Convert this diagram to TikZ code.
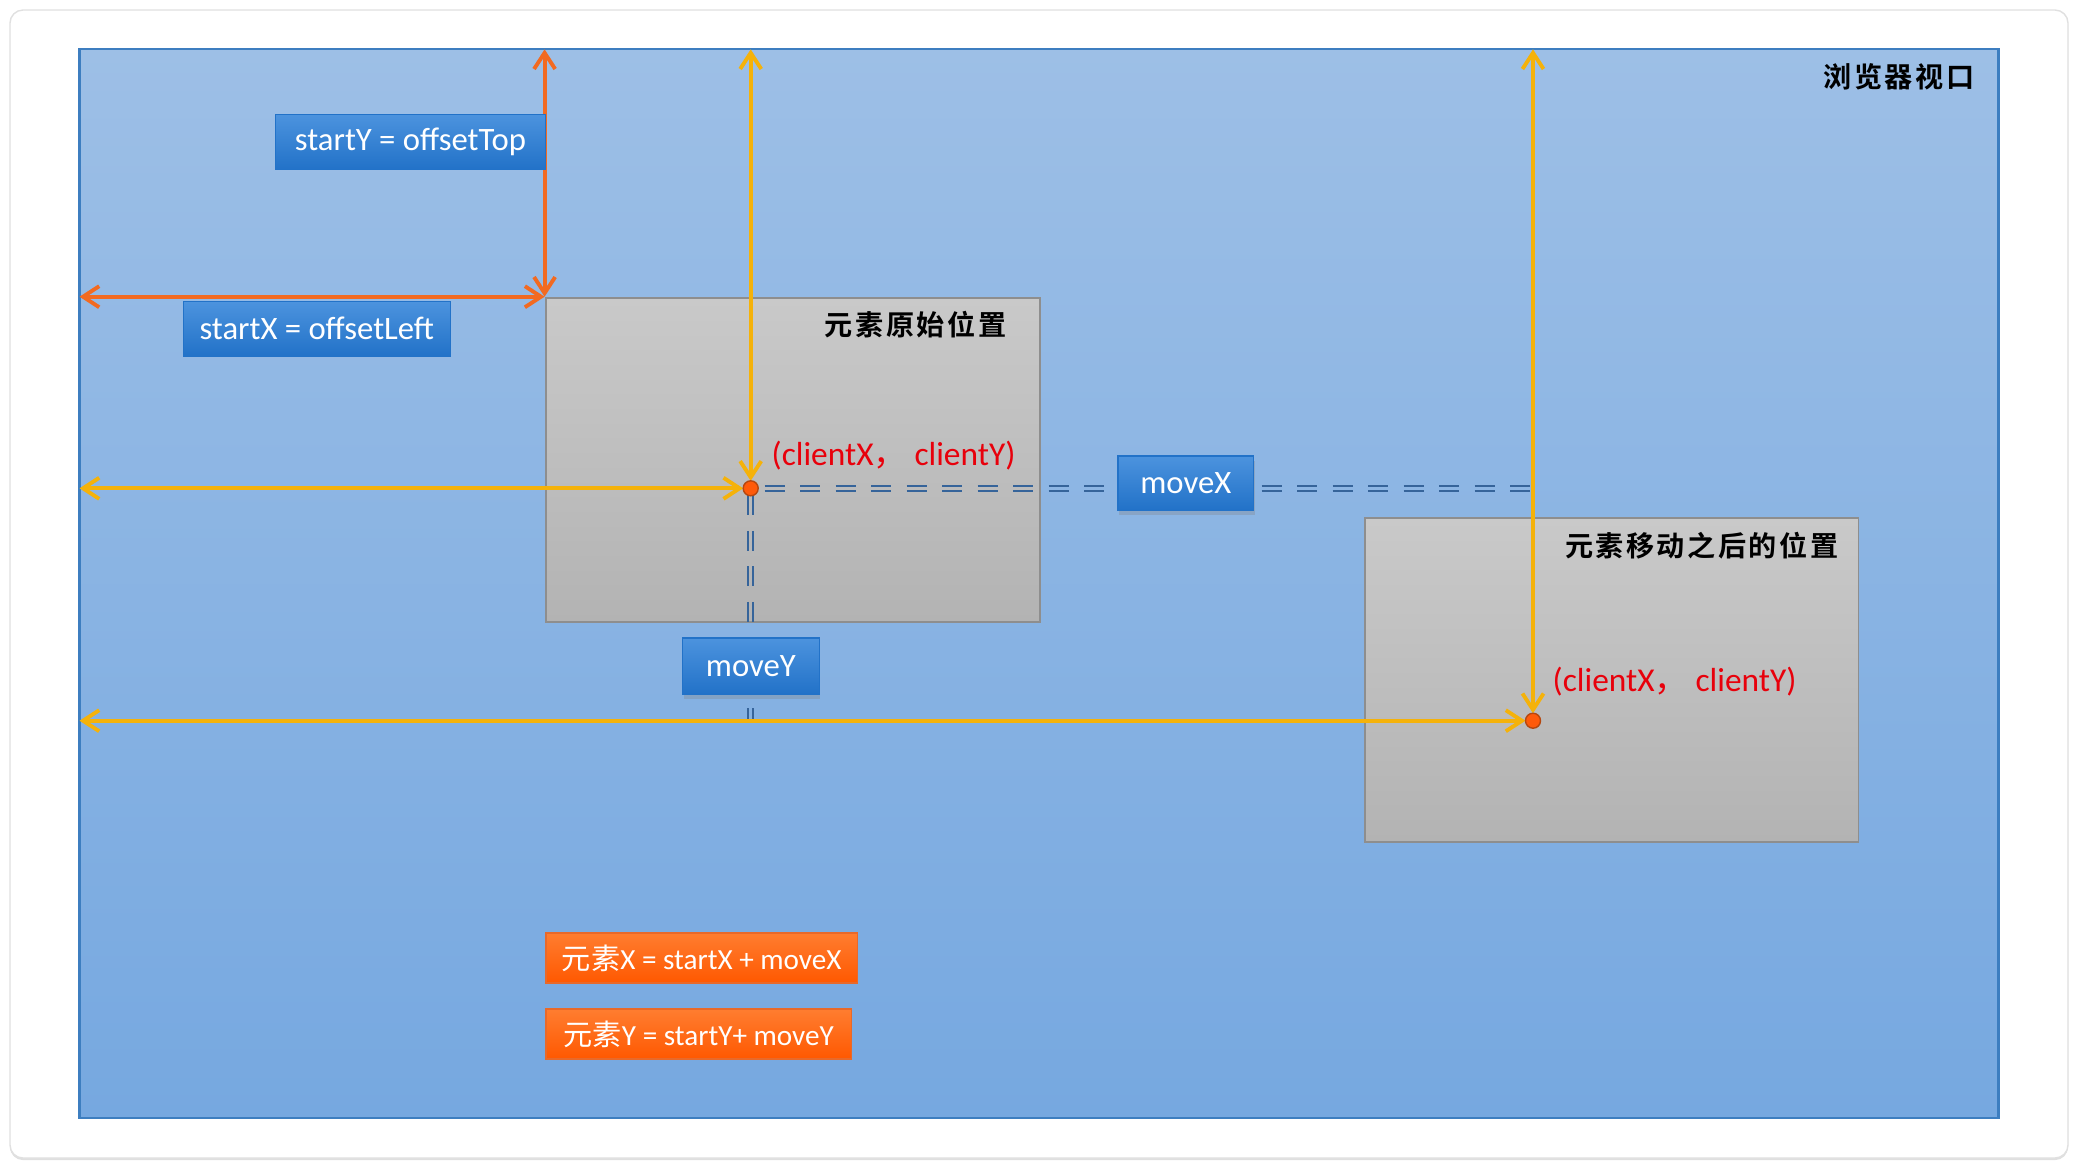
\documentclass[tikz,border=0pt]{standalone}
\usepackage{fontspec}
\setmainfont{Carlito}
\newfontfamily\cjk{Noto Sans CJK SC}
\newfontfamily\cjkhead[LetterSpace=9]{Noto Sans CJK SC Bold}
\usepackage{tkz-euclide}
\usetikzlibrary{calc}
\usetikzlibrary{arrows.meta}
\usetikzlibrary{shadows}

\definecolor{viewtop}{HTML}{9DBFE6}
\definecolor{viewbot}{HTML}{76A8E0}
\definecolor{viewline}{HTML}{3D7EC0}
\definecolor{greytop}{HTML}{C9C9C9}
\definecolor{greybot}{HTML}{B3B3B3}
\definecolor{greyline}{HTML}{8E8E8E}
\definecolor{btntop}{HTML}{4C93DE}
\definecolor{btnbot}{HTML}{2272C8}
\definecolor{eqtop}{HTML}{FF7D30}
\definecolor{eqbot}{HTML}{FF5800}
\definecolor{eqline}{HTML}{E8692A}
\definecolor{offsetorange}{HTML}{F26A21}
\definecolor{clientyellow}{HTML}{F5B20A}
\definecolor{dashblue}{HTML}{36649A}
\definecolor{clientred}{HTML}{E8000B}
\definecolor{dotfill}{HTML}{FF5A0A}
\definecolor{dotline}{HTML}{B5470F}

\tikzset{
    offsetarrow/.style={draw=offsetorange, line width=1.1pt, >={Straight Barb[length=4.6pt,width=6pt]}, <->},
    clientarrow/.style={draw=clientyellow, line width=1.1pt, >={Straight Barb[length=4.6pt,width=6pt]}, <->},
    moveline/.style={draw=dashblue, line width=0.55pt, dash pattern=on 5.7pt off 4.4pt},
    viewport/.style={draw=viewline, line width=0.6pt, top color=viewtop, bottom color=viewbot},
    elembox/.style={draw=greyline, line width=0.5pt, top color=greytop, bottom color=greybot},
    bluebox/.style={draw=btnbot, line width=0.3pt, top color=btntop, bottom color=btnbot, text=white, inner sep=0pt, font=\fontsize{9.3}{11}\selectfont},
    shadowbox/.style={bluebox, drop shadow={shadow xshift=0.4pt, shadow yshift=-1.4pt, opacity=0.3}},
    eqbox/.style={draw=eqline, line width=0.5pt, top color=eqtop, bottom color=eqbot, text=white, inner sep=0pt, font=\fontsize{8.3}{10}\selectfont},
    headtext/.style={font=\cjkhead\fontsize{8}{9}\selectfont, inner sep=0pt},
    clienttext/.style={text=clientred, font=\fontsize{9.5}{11}\selectfont, inner sep=0pt},
    dot/.style={circle, fill=dotfill, draw=dotline, line width=0.4pt, minimum size=0.15cm, inner sep=0pt}
}

\begin{document}
\begin{tikzpicture}
                    \tkzDefPoint(0,0){O}
                    \tkzDefPoint(20.78,-11.68){Q}
                    \useasboundingbox (O) rectangle (Q);

                    \tkzDefPoint(0.10,-0.10){K1}
                    \tkzDefPoint(20.68,-11.58){K2}
                    \draw[draw=black!12, fill=white, rounded corners=0.13cm, drop shadow={shadow xshift=0pt, shadow yshift=-0.6pt, opacity=0.25}] (K1) rectangle (K2);

                    \tkzDefPoint(0.795,-0.493){V1}
                    \tkzDefPoint(19.985,-11.183){V2}
                    \draw[viewport] (V1) rectangle (V2);

                    \tkzDefPoint(5.457,-2.983){R1}
                    \tkzDefPoint(10.400,-6.217){R2}
                    \tkzDefPoint(13.647,-5.183){S1}
                    \tkzDefPoint(18.586,-8.417){S2}
                    \draw[elembox] (R1) rectangle (R2);
                    \draw[elembox] (S1) rectangle (S2);

                    \node[headtext, anchor=east] (viewname) at (19.75,-0.77) {浏览器视口};
                    \node[headtext, anchor=east] (origname) at (10.07,-3.25) {元素原始位置};
                    \node[headtext, anchor=east] (movedname) at (18.39,-5.46) {元素移动之后的位置};

                    \tkzDefPoint(7.507,-4.883){P1}
                    \tkzDefPoint(15.330,-7.207){P2}
                    \tkzDefShiftPoint[P1](7.793,0){H}
                    \tkzDefShiftPoint[P1](0,-2.324){L}

                    \draw[moveline, shorten <=0.14cm] ([yshift=0.65pt]P1) -- ([yshift=0.65pt]H);
                    \draw[moveline, shorten <=0.14cm] ([yshift=-0.65pt]P1) -- ([yshift=-0.65pt]H);
                    \draw[moveline, shorten <=0.07cm] ([xshift=0.65pt]P1) -- ([xshift=0.65pt]L);
                    \draw[moveline, shorten <=0.07cm] ([xshift=-0.65pt]P1) -- ([xshift=-0.65pt]L);

                    \tkzDefPoint(5.446,-0.493){A}
                    \tkzDefPoint(5.446,-2.967){B}
                    \tkzDefPoint(0.795,-2.967){C}
                    \tkzDrawSegment[offsetarrow](A,B)
                    \tkzDrawSegment[offsetarrow](C,B)

                    \tkzDefPoint(7.507,-0.493){D}
                    \tkzDefPoint(0.795,-4.883){E}
                    \tkzDefPoint(15.330,-0.493){F}
                    \tkzDefPoint(0.795,-7.207){G}
                    \tkzDrawSegment[clientarrow, shorten >=0.075cm](D,P1)
                    \tkzDrawSegment[clientarrow, shorten >=0.075cm](E,P1)
                    \tkzDrawSegment[clientarrow, shorten >=0.075cm](F,P2)
                    \tkzDrawSegment[clientarrow, shorten >=0.075cm](G,P2)

                    \node[dot] (origdot) at (P1) {};
                    \node[dot] (moveddot) at (P2) {};

                    \node[clienttext, anchor=west] (origclient) at (7.71,-4.56) {(clientX{\cjk ，} clientY)};
                    \node[clienttext, anchor=west] (movedclient) at (15.52,-6.82) {(clientX{\cjk ，} clientY)};

                    \node[bluebox, minimum width=2.70cm, minimum height=0.55cm] (startY) at (4.105,-1.418) {startY = offsetTop};
                    \node[bluebox, minimum width=2.665cm, minimum height=0.547cm] (startX) at (3.168,-3.287) {startX = offsetLeft};
                    \node[shadowbox, minimum width=1.365cm, minimum height=0.56cm] (moveY) at (7.508,-6.66) {moveY};
                    \node[shadowbox, minimum width=1.356cm, minimum height=0.54cm] (moveX) at (11.858,-4.83) {moveX};

                    \node[eqbox, anchor=west, minimum width=3.117cm, minimum height=0.506cm] (sumX) at (5.45,-9.58) {{\cjk 元素}X = startX + moveX};
                    \node[eqbox, anchor=west, minimum width=3.057cm, minimum height=0.503cm] (sumY) at (5.45,-10.342) {{\cjk 元素}Y = startY+ moveY};
                \end{tikzpicture}
\end{document}
